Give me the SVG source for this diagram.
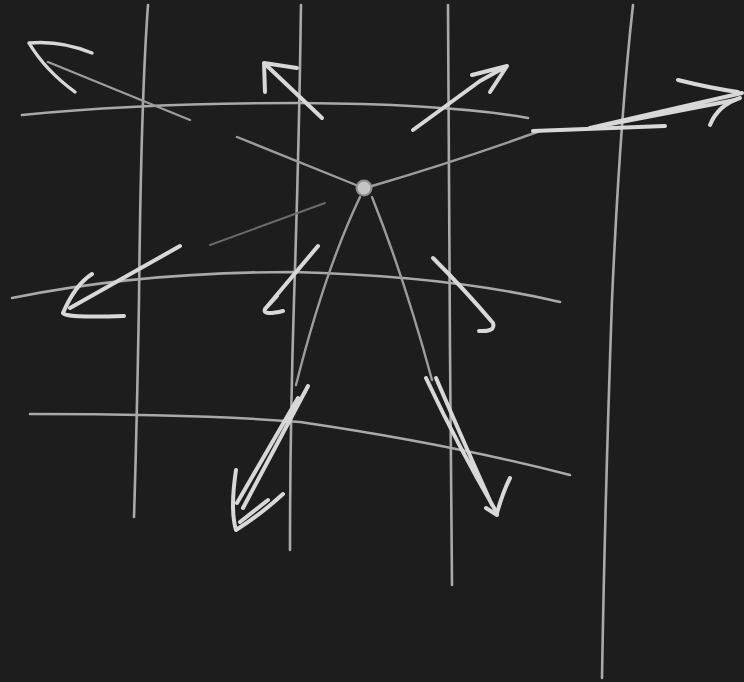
<svg xmlns="http://www.w3.org/2000/svg" width="744" height="682" viewBox="0 0 744 682">
<style>
.grid{fill:none;stroke:#a9a9a9;stroke-width:2.6;stroke-linecap:round;stroke-linejoin:round}
.ray{fill:none;stroke:#9c9c9c;stroke-width:2.4;stroke-linecap:round;stroke-linejoin:round}
.faint{fill:none;stroke:#6a6a6a;stroke-width:2;stroke-linecap:round}
.arr{fill:none;stroke:#d8d8d8;stroke-width:4;stroke-linecap:round;stroke-linejoin:round}
</style>
<rect width="744" height="682" fill="#1d1d1d"/>
<g id="grid">
<path class="grid" d="M148 5 Q141 100 139 300 Q137 420 134 517"/>
<path class="grid" d="M301 5 Q299 150 294 300 Q290 430 290 550"/>
<path class="grid" d="M448 5 Q449 200 450 350 Q451 480 452 585"/>
<path class="grid" d="M633 5 Q620 120 612 300 Q605 500 602 678"/>
<path class="grid" d="M22 115 Q140 103 300 103 Q450 104 528 118"/>
<path class="grid" d="M12 298 Q140 272 293 272 Q450 276 560 302"/>
<path class="grid" d="M30 414 Q200 414 300 422 Q450 444 570 475"/>
</g>
<g id="center">
<circle cx="364" cy="188" r="7.5" fill="#c4c4c4" stroke="#8e8e8e" stroke-width="2"/>
</g>
<g id="connectors">
<path class="ray" d="M356 185 L237 137 M190 120 L48 62"/>
<path class="faint" d="M325 203 L210 245"/>
<path class="ray" d="M372 186 Q460 160 540 131"/>
<path class="arr" d="M533 131 L665 126"/>
<path class="arr" d="M590 128 L742 93 M600 126 L735 100"/>
<path class="arr" d="M678 80 Q710 88 738 92 M710 125 Q718 105 740 98"/>
<path class="arr" style="stroke-width:3.4" d="M29 43 Q60 40 92 53 M29 43 Q45 70 75 92"/>
<path class="arr" d="M322 118 L264 63 M264 63 L297 68 M264 63 L265 92"/>
<path class="arr" d="M413 130 L480 81 L507 66 M507 66 L472 75 M507 66 L490 92"/>
<path class="arr" d="M180 246 L70 308 M63 313 Q75 285 92 274 M63 313 Q64 318 124 316"/>
<path class="arr" d="M318 246 L265 309 Q262 316 283 311 M266 308 L277 296"/>
<path class="arr" d="M433 258 Q465 290 493 323 Q496 332 479 331"/>
<path class="ray" d="M360 197 Q325 270 296 385"/>
<path class="arr" d="M308 386 L243 508 M298 398 L237 503"/>
<path class="arr" d="M236 470 Q230 510 236 530 Q260 515 283 494 M240 522 L268 500"/>
<path class="ray" d="M372 197 Q405 280 432 380"/>
<path class="arr" d="M426 378 Q460 450 497 513 M436 378 Q465 445 492 505"/>
<path class="arr" d="M497 513 Q503 492 510 478 M497 515 L486 508"/>
</g>
</svg>
